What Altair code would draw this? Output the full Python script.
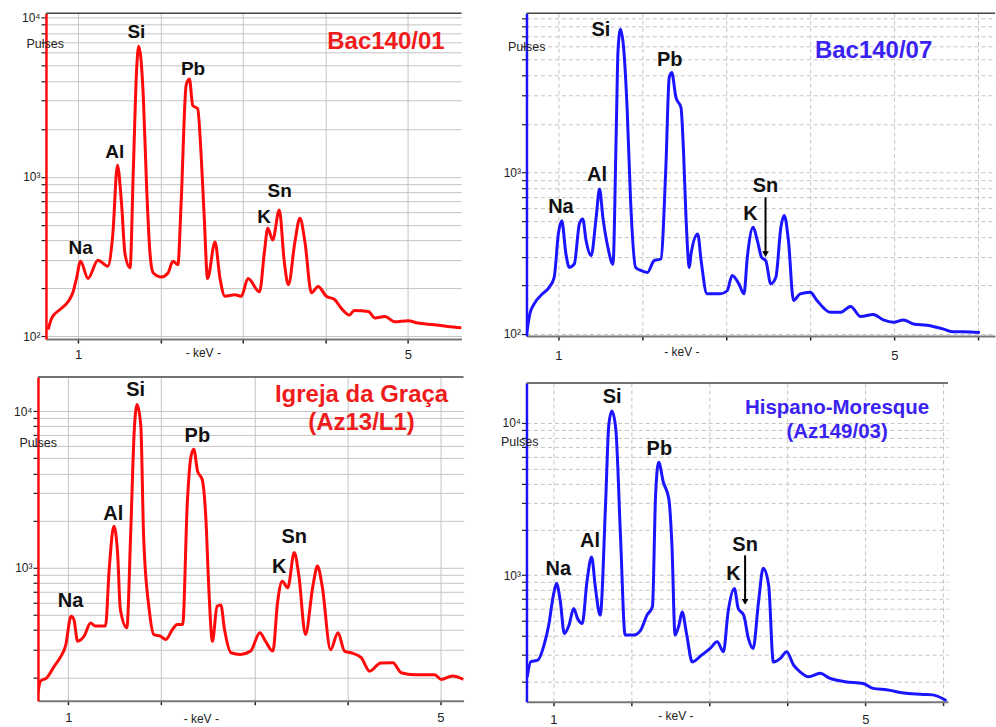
import altair as alt
import pandas as pd

FONT = "Liberation Sans"
RED = "#ff0a0a"
BLUE = "#1a14ff"
RED_T = "#f01c1c"
BLUE_T = "#3a22f0"

# ---------------- data ----------------
p1_kev = [0.636, 0.68, 0.78, 0.88, 0.94, 0.98, 1.03, 1.12, 1.24, 1.36, 1.42, 1.477, 1.525, 1.57, 1.63,
          1.67, 1.71, 1.735, 1.79, 1.83, 1.87, 1.91, 2.01, 2.09, 2.15, 2.21, 2.25, 2.31, 2.35, 2.39,
          2.45, 2.49, 2.53, 2.57, 2.66, 2.72, 2.78, 2.90, 2.98, 3.06, 3.20, 3.26, 3.30, 3.36, 3.44,
          3.50, 3.55, 3.63, 3.69, 3.75, 3.83, 3.91, 4.01, 4.11, 4.19, 4.29, 4.35, 4.52, 4.60, 4.72,
          4.84, 5.00, 5.12, 5.32, 5.48, 5.65]
p1_counts = [110, 130, 147, 165, 190, 230, 295, 230, 300, 275, 430, 1180, 698, 325, 268,
             1127, 4750, 6600, 3240, 887, 340, 250, 235, 249, 295, 281, 698, 3740, 4100, 2805,
             2673, 1432, 550, 230, 390, 232, 178, 182, 178, 230, 190, 340, 475, 402, 620,
             294, 210, 393, 550, 393, 187, 205, 178, 170, 150, 136, 145, 143, 130, 133,
             123, 125, 121, 118, 115, 113]

p2_kev = [0.62, 0.66, 0.71, 0.81, 0.89, 0.95, 1.0, 1.04, 1.09, 1.13, 1.19, 1.25, 1.29, 1.33, 1.39,
          1.45, 1.49, 1.53, 1.59, 1.65, 1.69, 1.71, 1.74, 1.78, 1.82, 1.86, 1.92, 1.98, 2.06, 2.14,
          2.22, 2.28, 2.32, 2.35, 2.40, 2.46, 2.49, 2.52, 2.56, 2.58, 2.66, 2.70, 2.77, 2.93, 3.01,
          3.07, 3.15, 3.21, 3.25, 3.32, 3.37, 3.42, 3.47, 3.53, 3.59, 3.65, 3.69, 3.74, 3.80, 3.88,
          4.0, 4.08, 4.24, 4.36, 4.48, 4.60, 4.75, 4.87, 4.99, 5.11, 5.23, 5.39, 5.59, 5.70, 5.82, 6.02]
p2_counts = [98, 133, 153, 177, 194, 224, 417, 502, 313, 258, 271, 480, 515, 378, 305,
             527, 790, 527, 343, 270, 1897, 5660, 7700, 5660, 2404, 668, 258, 247, 240, 284,
             291, 1074, 3870, 4150, 2911, 2523, 1361, 527, 258, 313, 415, 284, 177, 177, 185,
             230, 204, 177, 298, 457, 378, 298, 284, 204, 224, 457, 540, 378, 161, 177,
             181, 161, 136, 136, 148, 128, 132, 122, 118, 122, 115, 113, 107, 103, 103, 102]

p3_kev = [0.674, 0.70, 0.77, 0.85, 0.92, 0.97, 1.03, 1.06, 1.10, 1.17, 1.24, 1.29, 1.40, 1.44, 1.49,
          1.53, 1.56, 1.63, 1.67, 1.71, 1.74, 1.78, 1.81, 1.87, 1.92, 1.99, 2.05, 2.12, 2.17, 2.23,
          2.28, 2.32, 2.35, 2.39, 2.44, 2.48, 2.51, 2.55, 2.60, 2.64, 2.68, 2.75, 2.85, 2.96, 3.06,
          3.12, 3.20, 3.25, 3.30, 3.36, 3.43, 3.48, 3.55, 3.63, 3.68, 3.73, 3.82, 3.90, 3.97, 4.04,
          4.15, 4.24, 4.36, 4.49, 4.58, 4.72, 4.94, 5.01, 5.13, 5.25]
p3_counts = [159, 189, 199, 236, 272, 316, 491, 468, 340, 366, 445, 425, 425, 976, 1840,
             1247, 542, 414, 1592, 7640, 11000, 8020, 1592, 542, 375, 366, 349, 404, 435, 435,
             2600, 5160, 5700, 4140, 3660, 2035, 764, 340, 569, 580, 404, 287, 280, 294, 385,
             340, 294, 598, 822, 745, 1250, 885, 375, 764, 1025, 764, 300, 385, 294, 287,
             267, 219, 247, 248, 214, 208, 208, 194, 204, 194]

p4_kev = [0.665, 0.71, 0.80, 0.88, 0.94, 1.0, 1.04, 1.09, 1.14, 1.20, 1.26, 1.31, 1.37, 1.43, 1.49,
          1.54, 1.60, 1.67, 1.71, 1.75, 1.80, 1.86, 1.92, 2.03, 2.12, 2.20, 2.27, 2.31, 2.35, 2.41,
          2.48, 2.52, 2.56, 2.61, 2.65, 2.71, 2.78, 2.90, 3.01, 3.10, 3.18, 3.24, 3.32, 3.37, 3.44,
          3.50, 3.56, 3.63, 3.69, 3.76, 3.82, 3.91, 3.99, 4.08, 4.16, 4.27, 4.42, 4.54, 4.74, 4.97,
          5.10, 5.27, 5.52, 5.74, 5.86, 6.04]
p4_counts = [215, 271, 277, 348, 470, 740, 882, 668, 415, 470, 605, 520, 482, 904, 1320,
             818, 547, 3020, 9620, 12000, 9150, 1830, 405, 405, 437, 547, 621, 3340, 5520, 4080,
             3180, 1573, 405, 470, 575, 405, 270, 299, 331, 366, 315, 575, 818, 605, 547,
             385, 330, 668, 1110, 860, 270, 285, 315, 257, 233, 216, 227, 211, 200, 195,
             181, 177, 168, 165, 164, 150]

elements = ["Na", "Al", "Si", "Pb", "K", "Sn"]
p1_lab_kev = [1.03, 1.444, 1.707, 2.394, 3.255, 3.444]
p1_lab_cnt = [356, 1430, 8130, 4750, 562, 814]
p2_lab_kev = [1.03, 1.46, 1.507, 2.327, 3.289, 3.467]
p2_lab_cnt = [614, 968, 7590, 4960, 552, 828]
p3_lab_kev = [1.025, 1.484, 1.725, 2.388, 3.267, 3.429]
p3_lab_cnt = [613, 2220, 13600, 6920, 1015, 1570]
p4_lab_kev = [1.064, 1.469, 1.754, 2.359, 3.309, 3.458]
p4_lab_cnt = [1106, 1670, 14700, 6760, 1026, 1573]

p1_title = ["Bac140/01"]
p1_title_kev = [4.733]
p1_title_cnt = [6970]
p2_title = ["Bac140/07"]
p2_title_kev = [4.754]
p2_title_cnt = [5660]
p3_title = ["Igreja da Graça", "(Az13/L1)"]
p3_title_kev = [4.153, 4.153]
p3_title_cnt = [12600, 8430]
p4_title = ["Hispano-Moresque", "(Az149/03)"]
p4_title_kev = [4.638, 4.638]
p4_title_cnt = [12480, 8690]

# Sn arrows (keV, top count, bottom count)
p2_arrow = [3.467, 700, 312]
p4_arrow = [3.458, 1352, 668]

ylabel_expr = ("datum.value == 100 ? '10\u00b2' : datum.value == 1000 ? '10\u00b3' : "
               "datum.value == 10000 ? '10\u2074' : ''")


def yvalues(lo, hi):
    vals = []
    for dec in [10, 100, 1000, 10000]:
        for m in range(1, 10):
            v = m * dec
            if lo <= v <= hi:
                vals.append(v)
    return vals


def panel(kev, counts, color, xdom, ydom, w, h, xvals, ext, pulses, keVpos, lpad,
          dashed, lab_kev, lab_cnt, lab_size, title, tkev, tcnt, tcolor, tsize, arrow=None):
    df = pd.DataFrame({"keV": kev, "counts": counts})
    grid_dash = [4, 3] if dashed else []
    xscale = alt.Scale(domain=xdom, nice=False, zero=False)
    yscale = alt.Scale(type="log", domain=ydom, nice=False)
    xaxis = alt.Axis(
        values=xvals,
        labelExpr="datum.value == 1 || datum.value == 5 ? datum.label : ''",
        grid=True, gridColor="#c4c4c4", gridDash=grid_dash, gridWidth=1,
        tickSize=4, tickColor="#222", tickWidth=1.5,
        domainColor="#777", domainWidth=2,
        labelPadding=lpad, labelFontSize=13, labelFont=FONT, labelColor="#222",
        labelFlush=False, labelOverlap=False,
        title="- keV -", titleX=keVpos[0], titleY=keVpos[1], titleAlign="center",
        titleBaseline="middle", titleFont=FONT, titleFontSize=12, titleFontWeight="normal",
        titleColor="#222",
    )
    yaxis = alt.Axis(
        values=yvalues(ydom[0], ydom[1]), labelExpr=ylabel_expr,
        grid=True, gridColor="#c4c4c4", gridDash=grid_dash, gridWidth=1,
        tickSize=5, tickColor="#222", tickWidth=1.2,
        domainColor=color, domainWidth=2.5,
        labelPadding=1, labelFontSize=12, labelFont=FONT, labelColor="#222",
        labelFlush=False, labelOverlap=False,
        title="Pulses", titleAngle=0, titleX=pulses[0], titleY=pulses[1],
        titleAlign="left", titleBaseline="middle", titleFont=FONT, titleFontSize=12.5,
        titleFontWeight="normal", titleColor="#222", minExtent=ext,
    )
    X = lambda: alt.X("keV:Q", scale=xscale, axis=xaxis)
    Y = lambda: alt.Y("counts:Q", scale=yscale, axis=yaxis)

    line = alt.Chart(df).mark_line(
        color=color, strokeWidth=3, interpolate="monotone", clip=True, strokeJoin="round"
    ).encode(x=X(), y=Y())
    border = alt.Chart(pd.DataFrame({"a": [0]})).mark_rule(color="#444", strokeWidth=1.5).encode(
        x=alt.value(0), x2=alt.value(w), y=alt.value(0)
    )
    ldf = pd.DataFrame({"keV": lab_kev, "counts": lab_cnt, "name": elements})
    labels = alt.Chart(ldf).mark_text(
        font=FONT, fontWeight="bold", fontSize=lab_size, color="#111",
        align="center", baseline="middle"
    ).encode(x=X(), y=Y(), text="name:N")
    tdf = pd.DataFrame({"keV": tkev, "counts": tcnt, "t": title})
    tmark = alt.Chart(tdf).mark_text(
        font=FONT, fontWeight="bold", fontSize=tsize, color=tcolor,
        align="center", baseline="middle"
    ).encode(x=X(), y=Y(), text="t:N")
    layers = [line, border, labels, tmark]
    if arrow is not None:
        adf = pd.DataFrame({"keV": [arrow[0]], "counts": [arrow[1]], "c2": [arrow[2]]})
        shaft = alt.Chart(adf).mark_rule(color="#000", strokeWidth=2).encode(
            x=X(), y=Y(), y2="c2:Q"
        )
        hdf = pd.DataFrame({"keV": [arrow[0]], "counts": [arrow[2]]})
        head = alt.Chart(hdf).mark_point(
            shape="triangle-down", filled=True, size=45, color="#000", opacity=1
        ).encode(x=X(), y=Y())
        layers += [shaft, head]
    return alt.layer(*layers).properties(width=w, height=h)


def spacer():
    return alt.Chart(pd.DataFrame({"a": [0]})).mark_point(opacity=0, size=0).encode(
        x=alt.value(0), y=alt.value(0)
    ).properties(width=1, height=1)


p1 = panel(p1_kev, p1_counts, RED, [0.61, 5.65], [96, 10600], 416, 326, [1, 2, 3, 4, 5],
           45, (-20, 30), (157, 13), 5, False, p1_lab_kev, p1_lab_cnt, 19,
           p1_title, p1_title_kev, p1_title_cnt, RED_T, 24)
p2 = panel(p2_kev, p2_counts, BLUE, [0.62, 6.2], [97, 9660], 469, 323, [1, 2, 3, 4, 5, 6],
           30, (-19, 33), (155, 15), 9, True, p2_lab_kev, p2_lab_cnt, 20,
           p2_title, p2_title_kev, p2_title_cnt, BLUE_T, 24, arrow=p2_arrow)
p3 = panel(p3_kev, p3_counts, RED, [0.674, 5.25], [142, 16500], 426, 324, [1, 2, 3, 4, 5],
           37, (-19, 66), (163, 18), 7, False, p3_lab_kev, p3_lab_cnt, 20,
           p3_title, p3_title_kev, p3_title_cnt, RED_T, 24)
p4 = panel(p4_kev, p4_counts, BLUE, [0.655, 6.06], [148, 18300], 422, 319, [1, 2, 3, 4, 5, 6],
           30, (-26, 59), (149, 14), 8, True, p4_lab_kev, p4_lab_cnt, 20,
           p4_title, p4_title_kev, p4_title_cnt, BLUE_T, 20.5, arrow=p4_arrow)

left_col = alt.concat(spacer(), p1, spacer(), p3, columns=2, align="none",
                      spacing={"row": 15, "column": 0})
right_col = alt.vconcat(p2, p4, spacing=20)

chart = alt.hconcat(left_col, right_col, spacing=32).properties(
    padding={"left": 0, "top": 11, "right": 0, "bottom": 0}
).configure(background="white").configure_view(stroke=None)

chart.save("out.html", embed_options={"renderer": "svg", "actions": False})
